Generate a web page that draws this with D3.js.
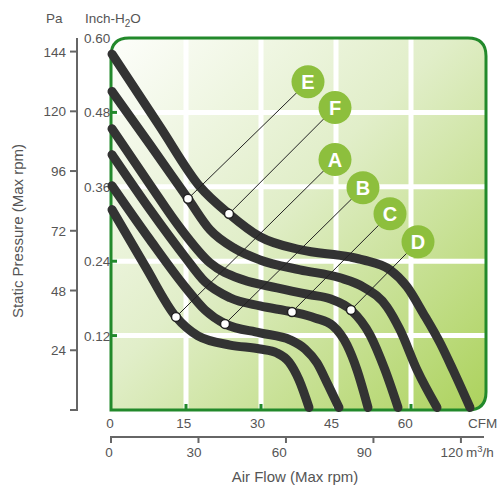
<!DOCTYPE html>
<html><head><meta charset="utf-8">
<script src="https://cdn.jsdelivr.net/npm/d3@7"></script>
<style>body{margin:0;background:#fff}svg{display:block}text{font-family:"Liberation Sans",Arial,sans-serif}</style>
</head><body>
<svg id="c" width="500" height="486"></svg>
<script>
// ---- data ----
const cfmTicks = [0, 15, 30, 45, 60];
const m3hTicks = [0, 30, 60, 90, 120];
const paTicks = [0, 24, 48, 72, 96, 120, 144];
const inchTicks = [0.12, 0.24, 0.36, 0.48, 0.60];
const curveNames = ["F", "E", "D", "C", "B", "A"];
// each curve: [CFM, Pa]
const curveF = [[0.2,143],[9.8,113.8],[17.8,89.7],[23.6,78.8],[29.8,69.6],[37.8,64.4],[47.8,61.5],[50.4,60.3],[55.8,56.3],[59.2,49.5],[62.4,39],[65.8,27],[68.4,16.1],[71.8,1]];
const curveE = [[0.2,128],[7.8,106.6],[15.4,84.9],[19.8,72.4],[24.8,64.8],[29.8,60.3],[37.8,56.3],[45.8,53.1],[50.4,49.5],[55.2,41.4],[57.8,32.2],[61.2,16.1],[65.2,1]];
const curveD = [[0.2,113],[7.8,90.5],[13.8,73.2],[19.8,59.1],[26.4,52.3],[33.2,49.1],[39.8,46.3],[43.8,44.7],[48,40.2],[51.8,30.2],[54.8,16.1],[57.4,1]];
const curveC = [[0.2,102.6],[7.8,80.5],[14.8,61.5],[18.8,51.5],[23.8,45.1],[29.8,41.8],[36.2,39.4],[40.8,37],[44.4,33.8],[47.2,26.1],[49.2,16.1],[51.4,1]];
const curveB = [[0.2,90.1],[7.8,68.4],[14.8,49.5],[18.8,40.2],[22.8,34.6],[29.8,31],[35.8,28.2],[38.8,24.5],[41.2,18.9],[43.4,10.1],[45.6,1]];
const curveA = [[0.2,80.5],[6.8,57.9],[13,37.4],[17.4,29.8],[23.8,26.1],[29.8,24.5],[33.2,22.9],[35.6,19.3],[37.6,12.1],[39.6,1]];
// marker point on each curve [CFM, Pa]
const markerPts = [[23.6,78.8],[15.4,84.9],[48,40.2],[36.2,39.4],[22.8,34.6],[13,37.4]];
// label bubble position [CFM, Pa]
const labelPts = [[44.8,121.5],[39.4,131.9],[61.4,67.6],[55.8,78.8],[50.4,89.3],[44.8,100.6]];

const curves = [curveF, curveE, curveD, curveC, curveB, curveA];

// ---- scales ----
const PA_PER_INCH = 249.09;
const x = d3.scaleLinear().domain([0, 75]).range([111, 486]);
const yPa = d3.scaleLinear().domain([0, 0.6 * PA_PER_INCH]).range([410, 38]);
const yIn = d3.scaleLinear().domain([0, 0.6]).range([410, 38]);
const xM = d3.scaleLinear().domain([0, 128.6]).range([111, 486]);

const svg = d3.select("#c");
const defs = svg.append("defs");
const g = defs.append("linearGradient").attr("id","bg").attr("x1","0").attr("y1","0").attr("x2","1").attr("y2","1");
g.append("stop").attr("offset","0").attr("stop-color","#fdfefb");
g.append("stop").attr("offset","0.45").attr("stop-color","#e1eec9");
g.append("stop").attr("offset","1").attr("stop-color","#acd25c");

const L = x(0), R = x(75), T = yIn(0.6), B = yIn(0), r = 18;
const framePath = `M${L},${B} L${L},${T+r} Q${L},${T} ${L+r},${T} L${R-r},${T} Q${R},${T} ${R},${T+r} L${R},${B-r} Q${R},${B} ${R-r},${B} Z`;
defs.append("clipPath").attr("id","clip").append("path").attr("d", framePath);

svg.append("path").attr("d", framePath).attr("fill","url(#bg)");

// white grid
const grid = svg.append("g").attr("clip-path","url(#clip)").attr("stroke","#fff").attr("stroke-width",5);
grid.selectAll("line.v").data(cfmTicks.slice(1)).join("line")
  .attr("x1", d => x(d)).attr("x2", d => x(d)).attr("y1", T).attr("y2", B);
grid.selectAll("line.h").data(inchTicks.slice(0,4)).join("line")
  .attr("y1", d => yIn(d)).attr("y2", d => yIn(d)).attr("x1", L).attr("x2", R);

svg.append("path").attr("d", framePath).attr("fill","none").attr("stroke","#22892b").attr("stroke-width",3);

// green ticks on frame
svg.append("g").selectAll("line").data(inchTicks.slice(0,4)).join("line")
  .attr("x1", L).attr("x2", L+6).attr("y1", d => yIn(d)).attr("y2", d => yIn(d))
  .attr("stroke","#22892b").attr("stroke-width",3);
svg.append("g").selectAll("line").data(cfmTicks.slice(1)).join("line")
  .attr("x1", d => x(d)).attr("x2", d => x(d)).attr("y1", B).attr("y2", B-6)
  .attr("stroke","#22892b").attr("stroke-width",3);

// Pa axis
const paAxis = svg.append("g");
paAxis.append("line").attr("x1",77).attr("x2",77).attr("y1",T).attr("y2",B+1).attr("stroke","#666").attr("stroke-width",2);
paAxis.selectAll("line.t").data(paTicks).join("line").attr("class","t")
  .attr("x1",70).attr("x2",77).attr("y1", d => yPa(d)).attr("y2", d => yPa(d)).attr("stroke","#666").attr("stroke-width",2);
paAxis.selectAll("text").data(paTicks.filter(d => d > 0)).join("text")
  .attr("x",66).attr("y", d => yPa(d) + 5).attr("text-anchor","end")
  .attr("font-size",13.5).attr("fill","#555").text(d => d);

// inch labels
svg.append("g").selectAll("text").data(inchTicks).join("text")
  .attr("x",84).attr("y", d => yIn(d) + 5).attr("font-size",13.5).attr("fill","#555")
  .text(d => d.toFixed(2));

// headers
svg.append("text").attr("x",46).attr("y",23).attr("font-size",13.5).attr("fill","#555").text("Pa");
const ih = svg.append("text").attr("x",85).attr("y",23).attr("font-size",13.5).attr("fill","#555");
ih.append("tspan").text("Inch-H");
ih.append("tspan").attr("font-size",10).attr("dy",4).text("2");
ih.append("tspan").attr("dy",-4).text("O");

// CFM labels
svg.append("g").selectAll("text").data(cfmTicks).join("text")
  .attr("x", d => x(d) - 1 - d * 0.08).attr("y",428).attr("text-anchor","middle")
  .attr("font-size",13.5).attr("fill","#555").text(d => d);
svg.append("text").attr("x",468).attr("y",428).attr("font-size",13.5).attr("fill","#555").text("CFM");

// m3/h axis
const mAxis = svg.append("g");
mAxis.append("line").attr("x1",L).attr("x2",484).attr("y1",437).attr("y2",437).attr("stroke","#666").attr("stroke-width",2);
mAxis.selectAll("line.t").data(m3hTicks).join("line").attr("class","t")
  .attr("x1", d => xM(d)).attr("x2", d => xM(d)).attr("y1",436).attr("y2",443).attr("stroke","#666").attr("stroke-width",2);
mAxis.selectAll("text").data(m3hTicks.slice(0,4)).join("text")
  .attr("x", d => xM(d) - 2 - d * 0.08).attr("y",457).attr("text-anchor","middle")
  .attr("font-size",13.5).attr("fill","#555").text(d => d);
const lastM = m3hTicks[4];
const mt = svg.append("text").attr("x", xM(lastM) + 2).attr("y",457).attr("text-anchor","end")
  .attr("font-size",13.5).attr("fill","#555").text(lastM);
const mu = svg.append("text").attr("x", xM(lastM) + 5).attr("y",457).attr("font-size",13.5).attr("fill","#555");
mu.append("tspan").text("m");
mu.append("tspan").attr("font-size",9.5).attr("dy",-5).text("3");
mu.append("tspan").attr("dy",5).text("/h");

// titles
svg.append("text").attr("x",295).attr("y",482).attr("text-anchor","middle").attr("font-size",15).attr("fill","#555").text("Air Flow (Max rpm)");
svg.append("text").attr("transform","translate(23,231) rotate(-90)").attr("text-anchor","middle").attr("font-size",15).attr("fill","#555").text("Static Pressure (Max rpm)");

// curves
const line = d3.line().x(d => x(d[0])).y(d => yPa(d[1])).curve(d3.curveMonotoneX);
svg.append("g").selectAll("path").data(curves).join("path")
  .attr("d", line).attr("fill","none").attr("stroke","#333").attr("stroke-width",9).attr("stroke-linecap","round");

// leaders
svg.append("g").selectAll("line").data(markerPts).join("line")
  .attr("x1", d => x(d[0])).attr("y1", d => yPa(d[1]))
  .attr("x2", (d,i) => x(labelPts[i][0])).attr("y2", (d,i) => yPa(labelPts[i][1]))
  .attr("stroke","#222").attr("stroke-width",1);
svg.append("g").selectAll("circle").data(markerPts).join("circle")
  .attr("cx", d => x(d[0])).attr("cy", d => yPa(d[1])).attr("r",4.5)
  .attr("fill","#fff").attr("stroke","#222").attr("stroke-width",1.5);

// label bubbles
const lb = svg.append("g").selectAll("g").data(labelPts).join("g")
  .attr("transform", d => `translate(${x(d[0])},${yPa(d[1])})`);
lb.append("circle").attr("r",16.5).attr("fill","#8dbf3d");
lb.append("text").attr("text-anchor","middle").attr("y",7).attr("font-size",20).attr("font-weight","bold")
  .attr("fill","#fff").text((d,i) => curveNames[i]);
</script>
</body></html>
